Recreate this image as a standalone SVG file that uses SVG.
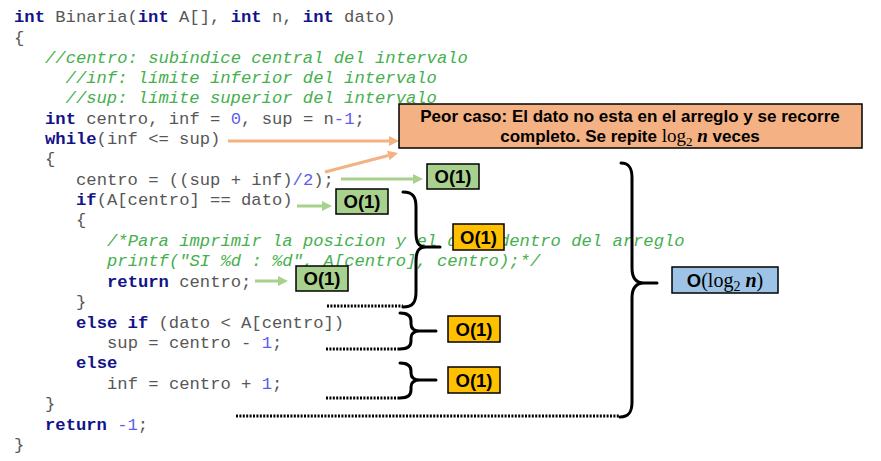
<svg xmlns="http://www.w3.org/2000/svg" width="881" height="461" viewBox="0 0 881 461">
<style>
.code{font-family:"Liberation Mono","DejaVu Sans Mono",monospace;font-size:17.2px;fill:#575757}
.kw{font-weight:bold;fill:#12128a}
.cm{font-style:italic;fill:#45b04e}
.num{fill:#5c5cf0}
.box{stroke:#000;stroke-width:1.5}
.g{fill:#A9D18E}
.y{fill:#FFC000}
.b{fill:#9DC3E6}
.o{fill:#F4B183}
.lbl{font-family:"Liberation Sans",Arial,sans-serif;font-weight:bold;font-size:18.5px;fill:#000;text-anchor:middle}
.note{font-family:"Liberation Sans",Arial,sans-serif;font-weight:bold;font-size:17px;fill:#000;text-anchor:middle}
.math{font-family:"Liberation Serif","DejaVu Serif",serif;font-weight:normal}
.mi{font-family:"Liberation Serif","DejaVu Serif",serif;font-weight:bold;font-style:italic}
.brace{fill:none;stroke:#000;stroke-width:3;stroke-linecap:round;stroke-linejoin:round}
.dots{fill:none;stroke:#000;stroke-width:3;stroke-dasharray:2 1.4}
.ao{fill:none;stroke:#F4B183;stroke-width:3;marker-end:url(#hO)}
.ag{fill:none;stroke:#A9D18E;stroke-width:3;marker-end:url(#hG)}
</style>
<defs>
<marker id="hO" markerUnits="userSpaceOnUse" markerWidth="12" markerHeight="12" refX="0" refY="5" orient="auto" overflow="visible"><path d="M0,0 L10,5 L0,10 Z" fill="#F4B183"/></marker>
<marker id="hG" markerUnits="userSpaceOnUse" markerWidth="12" markerHeight="12" refX="0" refY="5" orient="auto" overflow="visible"><path d="M0,0 L10,5 L0,10 Z" fill="#A9D18E"/></marker>
</defs>
<rect width="881" height="461" fill="#fff"/>
<g id="code" class="code" xml:space="preserve">
<text x="14" y="22"><tspan class="kw">int</tspan> Binaria(<tspan class="kw">int</tspan> A[], <tspan class="kw">int</tspan> n, <tspan class="kw">int</tspan> dato)</text>
<text x="14" y="43">{</text>
<text x="45" y="63" class="cm">//centro: subíndice central del intervalo</text>
<text x="65.6" y="83" class="cm">//inf: límite inferior del intervalo</text>
<text x="65.6" y="103" class="cm">//sup: límite superior del intervalo</text>
<text x="45" y="124"><tspan class="kw">int</tspan> centro, inf = <tspan class="num">0</tspan>, sup = n<tspan class="num">-1</tspan>;</text>
<text x="45" y="144"><tspan class="kw">while</tspan>(inf &lt;= sup)</text>
<text x="45" y="164">{</text>
<text x="76" y="185">centro = ((sup + inf)<tspan class="num">/2</tspan>);</text>
<text x="76" y="205"><tspan class="kw">if</tspan>(A[centro] == dato)</text>
<text x="76" y="225">{</text>
<text x="107" y="246" class="cm">/*Para imprimir la posicion y el dato dentro del arreglo</text>
<text x="107" y="266" class="cm">printf("SI %d : %d", A[centro], centro);*/</text>
<text x="107" y="287"><tspan class="kw">return</tspan> centro;</text>
<text x="76" y="307">}</text>
<text x="76" y="328"><tspan class="kw">else if</tspan> (dato &lt; A[centro])</text>
<text x="107" y="348">sup = centro - <tspan class="num">1</tspan>;</text>
<text x="76" y="368"><tspan class="kw">else</tspan></text>
<text x="107" y="389">inf = centro + <tspan class="num">1</tspan>;</text>
<text x="45" y="409">}</text>
<text x="45" y="430"><tspan class="kw">return</tspan> <tspan class="num">-1</tspan>;</text>
<text x="14" y="450">}</text>
</g>
<g id="connectors">
<path class="ao" d="M228,141 L389,141"/>
<path class="ao" d="M325,172 L388.3,155.5"/>
<path class="ag" d="M341,179 L413,179"/>
<path class="ag" d="M297,206 L322,206"/>
<path class="ag" d="M255,281 L278,281"/>
<path class="dots" d="M327,306 L403,306"/>
<path class="dots" d="M326,349 L400,349"/>
<path class="dots" d="M326,398 L400,398"/>
<path class="dots" d="M236,416 L620,416"/>
<path class="brace" d="M403,192 C413,192 416,197 416,207 L416,232 C416,242 418,247 426,247 L440,247 M426,247 C418,247 416,252 416,262 L416,292 C416,302 413,307 403,307"/>
<path class="brace" d="M400,313 C408,313 411,316 411,321 L411,324 C411,329 414,331 420,331 L436,331 M420,331 C414,331 411,333 411,338 L411,341 C411,346 408,349 400,349"/>
<path class="brace" d="M400,363 C408,363 411,366 411,371 L411,373 C411,378 414,380 420,380 L436,380 M420,380 C414,380 411,382 411,387 L411,390 C411,395 408,398 400,398"/>
<path class="brace" d="M621,163 C629,163 632,168 632,178 L632,268 C632,278 636,283 644,283 L657,283 M644,283 C636,283 632,288 632,298 L632,402 C632,412 629,417 620,417"/>
</g>
<g id="note">
<rect class="box o" x="399" y="104" width="463" height="44"/>
<text class="note" x="630" y="122">Peor caso: El dato no esta en el arreglo y se recorre</text>
<text class="note" x="630" y="142">completo. Se repite <tspan class="math" font-size="19">log</tspan><tspan class="math" font-size="13" dy="4">2</tspan><tspan class="mi" font-size="19" dy="-4"> n</tspan> veces</text>
</g>
<g id="o1-centro"><rect class="box g" x="427" y="164" width="52" height="25"/><text class="lbl" x="453" y="183">O(1)</text></g>
<g id="o1-if"><rect class="box g" x="336" y="189" width="52" height="25"/><text class="lbl" x="362" y="208">O(1)</text></g>
<g id="o1-return"><rect class="box g" x="296" y="266" width="52" height="25"/><text class="lbl" x="322" y="285">O(1)</text></g>
<g id="o1-ifblock"><rect class="box y" x="453" y="224" width="51" height="26"/><text class="lbl" x="478.5" y="243.5">O(1)</text></g>
<g id="o1-elseif"><rect class="box y" x="448" y="316" width="52" height="26"/><text class="lbl" x="474" y="335.5">O(1)</text></g>
<g id="o1-else"><rect class="box y" x="448" y="367" width="52" height="26"/><text class="lbl" x="474" y="386.5">O(1)</text></g>
<g id="olog"><rect class="box b" x="672" y="267" width="106" height="26"/><text class="lbl" x="725" y="286.5">O<tspan class="math" font-size="20">(log</tspan><tspan class="math" font-size="14" dy="4">2</tspan><tspan class="mi" font-size="20" dy="-4"> n</tspan><tspan class="math" font-size="20">)</tspan></text></g>
</svg>
